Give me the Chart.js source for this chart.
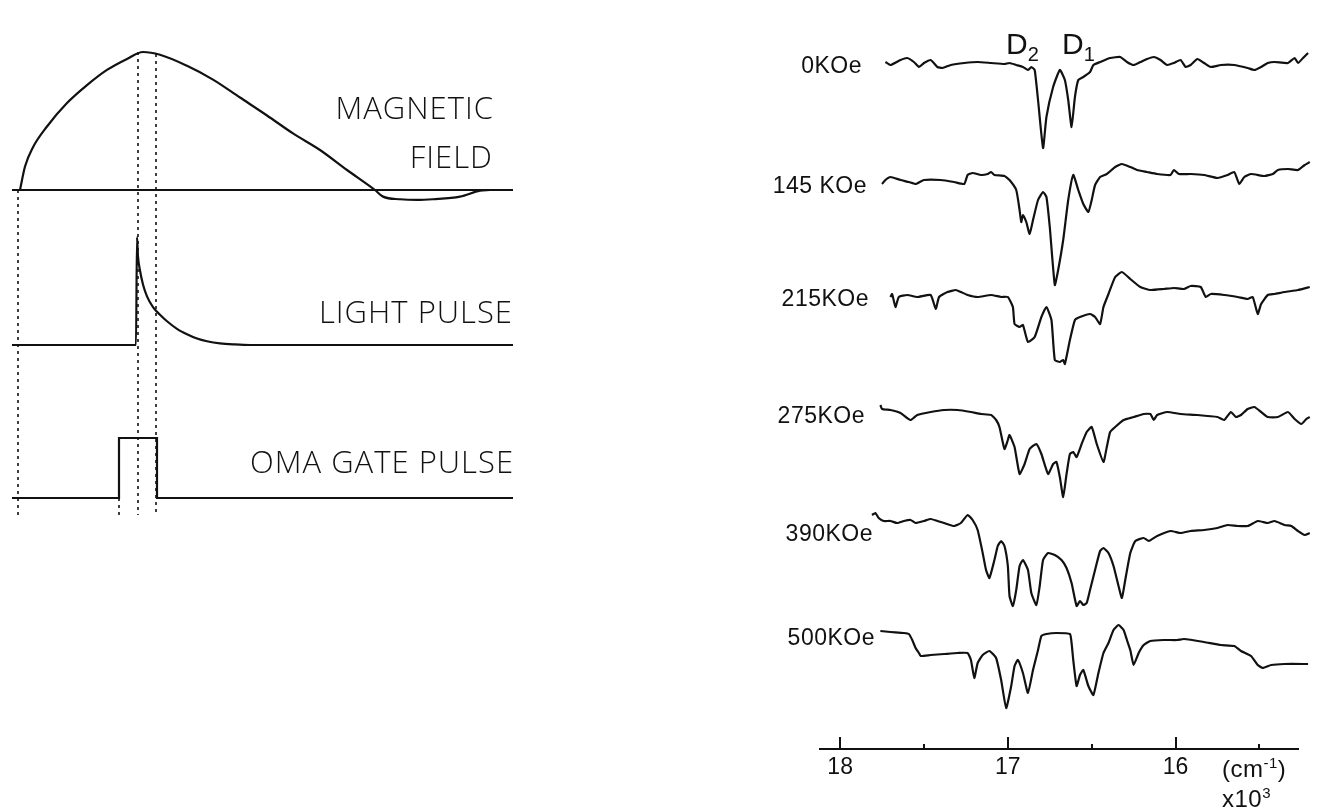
<!DOCTYPE html>
<html>
<head>
<meta charset="utf-8">
<title>Magnetic field timing and Na D-line spectra</title>
<script src="https://cdn.jsdelivr.net/npm/chart.js@4.4.1/dist/chart.umd.min.js"></script>
<style>
    html, body {
        margin: 0;
        padding: 0;
        background: #ffffff;
    }
    .page {
        position: relative;
        width: 1327px;
        height: 811px;
        overflow: hidden;
        background: #ffffff;
        color: #111111;
    }
    canvas {
        position: absolute;
    }
    #timingChart { left: 0; top: 0; }
    #spectraChart { left: 700px; top: 0; }
    .lbl {
        position: absolute;
        white-space: nowrap;
        line-height: 1;
        color: #111111;
    }
    .signal {
        font-family: 'Open Sans', 'Liberation Sans', sans-serif;
        font-weight: 300;
        font-size: 31px;
        letter-spacing: 1px;
        text-align: right;
    }
    .field {
        font-family: 'Liberation Sans', sans-serif;
        font-size: 23px;
        letter-spacing: 0.5px;
        text-align: right;
    }
    .line-name {
        font-family: 'Liberation Sans', sans-serif;
        font-size: 30px;
    }
    .line-name sub {
        font-size: 20px;
        vertical-align: -7px;
    }
    .unit {
        font-family: 'Liberation Sans', sans-serif;
        font-size: 24px;
        letter-spacing: 0.5px;
    }
    .unit sup, .unit .exp {
        font-size: 15px;
        vertical-align: 9px;
    }
</style>
</head>
<body>
<div class="page">
    <canvas id="timingChart" width="530" height="540"></canvas>
    <canvas id="spectraChart" width="627" height="811"></canvas>

    <!-- timing diagram labels -->
    <div class="lbl signal" style="right: 833px; top: 92px;">MAGNETIC</div>
    <div class="lbl signal" style="right: 834px; top: 141px;">FIELD</div>
    <div class="lbl signal" style="right: 814px; top: 296px;">LIGHT PULSE</div>
    <div class="lbl signal" style="right: 813px; top: 446px;">OMA GATE PULSE</div>

    <!-- spectra labels -->
    <div class="lbl line-name" style="left: 1006px; top: 29px;">D<sub>2</sub></div>
    <div class="lbl line-name" style="left: 1062px; top: 29px;">D<sub>1</sub></div>
    <div class="lbl field" style="right: 465px; top: 54px;">0KOe</div>
    <div class="lbl field" style="right: 460px; top: 174px;">145 KOe</div>
    <div class="lbl field" style="right: 458px; top: 287px;">215KOe</div>
    <div class="lbl field" style="right: 462px; top: 404px;">275KOe</div>
    <div class="lbl field" style="right: 454px; top: 522px;">390KOe</div>
    <div class="lbl field" style="right: 452px; top: 626px;">500KOe</div>
    <div class="lbl unit" style="left: 1222px; top: 755px;">(cm<sup>-1</sup>)</div>
    <div class="lbl unit" style="left: 1222px; top: 785px;">x10<span class="exp">3</span></div>
</div>

<script>
/**
 * Timing diagram data (time in arbitrary units)
 */
const timeSpan = [0, 530];
const baseTimes = [12, 513];

const fieldTimes = [20, 25, 33, 47, 67, 87, 107, 127, 143, 160, 187, 213, 240, 267, 293, 320, 347, 375, 383, 400, 417, 433, 460, 480, 490];
const fieldValues = [0, 0.17, 0.31, 0.46, 0.63, 0.76, 0.87, 0.95, 1.0, 0.98, 0.90, 0.80, 0.67, 0.54, 0.41, 0.29, 0.145, 0, -0.048, -0.067, -0.072, -0.067, -0.048, -0.005, 0];

const lightTimes = [12, 136, 137, 138, 140, 143, 147, 153, 160, 167, 177, 187, 197, 207, 220, 235, 250, 513];
const lightValues = [0, 0, 1.0, 0.82, 0.69, 0.56, 0.45, 0.35, 0.28, 0.22, 0.15, 0.10, 0.06, 0.035, 0.015, 0.005, 0, 0];

const gateTimes = [12, 119, 119, 157, 157, 513];
const gateValues = [0, 0, 1, 1, 0, 0];

// trace baselines and heights on the diagram's vertical scale
const traceLevels = [350, 195, 42];
const traceHeights = [138, 108, 60];

// dotted time markers
const markerTimes = [18, 138, 156, 119];
const markerTops = [350, 488, 486, 42];
const markerBottom = 25;

/**
 * Spectra data (wavenumber in 10^3 cm^-1, deflection in arbitrary units)
 */
const fieldLabels = ['0KOe', '145 KOe', '215KOe', '275KOe', '390KOe', '500KOe'];
const traceOffsets = [686, 567, 452, 337, 226, 116];

const wn0 = [17.73, 17.70, 17.64, 17.60, 17.56, 17.53, 17.50, 17.46, 17.42, 17.39, 17.34, 17.26, 17.18, 17.10, 17.02, 16.99, 16.95, 16.91, 16.88, 16.86, 16.84, 16.82, 16.79, 16.77, 16.73, 16.69, 16.66, 16.64, 16.62, 16.60, 16.58, 16.55, 16.51, 16.49, 16.45, 16.39, 16.33, 16.29, 16.25, 16.21, 16.17, 16.13, 16.09, 16.05, 16.01, 15.97, 15.94, 15.91, 15.87, 15.83, 15.79, 15.73, 15.65, 15.57, 15.53, 15.49, 15.45, 15.41, 15.33, 15.29, 15.27, 15.24, 15.21];
const int0 = [1, -2, 3, 5, 1, -4, 0, 3, -4, -5, -2, 0, 1, 0, -1, 0, -2, -4, -7, -4, -7, -37, -85, -54, -24, -7, -17, -37, -64, -34, -17, -14, -9, -2, 1, 5, 6, 1, -2, 1, 4, 6, 3, -2, 0, 3, -4, -2, 4, 0, -4, -2, -2, -5, -7, -4, 0, 1, 0, 5, 0, 5, 10];

const wn1 = [17.75, 17.73, 17.70, 17.64, 17.59, 17.55, 17.50, 17.40, 17.32, 17.26, 17.24, 17.21, 17.16, 17.12, 17.10, 17.08, 17.02, 16.99, 16.95, 16.93, 16.92, 16.91, 16.89, 16.87, 16.85, 16.82, 16.79, 16.77, 16.75, 16.72, 16.70, 16.67, 16.64, 16.61, 16.58, 16.55, 16.52, 16.50, 16.48, 16.45, 16.41, 16.36, 16.32, 16.27, 16.23, 16.17, 16.11, 16.03, 16.01, 15.98, 15.91, 15.83, 15.75, 15.69, 15.65, 15.62, 15.59, 15.55, 15.47, 15.42, 15.39, 15.33, 15.27, 15.23, 15.20];
const int1 = [-2, 2, 5, 2, 0, -2, 2, 2, 0, -2, 7, 9, 7, 8, 10, 7, 6, 2, -8, -28, -40, -33, -40, -52, -38, -18, -10, -15, -45, -103, -88, -58, -18, 7, -8, -22, -30, -18, -3, 5, 8, 15, 18, 15, 12, 10, 8, 7, 12, 8, 8, 7, 4, 7, 10, -2, 5, 8, 6, 8, 12, 13, 12, 17, 20];

const wn2 = [17.70, 17.69, 17.67, 17.65, 17.60, 17.54, 17.46, 17.43, 17.41, 17.36, 17.31, 17.28, 17.24, 17.18, 17.10, 17.04, 17.00, 16.97, 16.96, 16.93, 16.91, 16.88, 16.84, 16.80, 16.77, 16.74, 16.72, 16.69, 16.67, 16.66, 16.63, 16.60, 16.57, 16.51, 16.48, 16.45, 16.43, 16.40, 16.36, 16.32, 16.27, 16.21, 16.15, 16.07, 16.01, 15.95, 15.91, 15.85, 15.82, 15.79, 15.71, 15.63, 15.57, 15.54, 15.51, 15.49, 15.45, 15.41, 15.35, 15.27, 15.20];
const int2 = [0, 3, -10, 0, 2, 0, 2, -12, 0, 5, 7, 5, 2, 0, 2, 0, 0, -10, -27, -30, -28, -45, -40, -20, -10, -23, -63, -65, -63, -67, -43, -23, -20, -17, -20, -27, -10, 3, 20, 25, 18, 10, 7, 8, 9, 8, 11, 10, 0, 3, 2, 0, -2, 0, -17, -7, 2, 3, 5, 7, 10];

const wn3 = [17.76, 17.75, 17.70, 17.64, 17.58, 17.54, 17.46, 17.38, 17.30, 17.22, 17.16, 17.10, 17.07, 17.05, 17.02, 17.00, 16.99, 16.96, 16.93, 16.90, 16.87, 16.83, 16.80, 16.76, 16.73, 16.71, 16.69, 16.67, 16.65, 16.63, 16.61, 16.59, 16.56, 16.53, 16.50, 16.47, 16.43, 16.41, 16.39, 16.36, 16.31, 16.25, 16.19, 16.15, 16.13, 16.11, 16.05, 15.97, 15.87, 15.75, 15.71, 15.67, 15.64, 15.61, 15.57, 15.53, 15.49, 15.45, 15.39, 15.33, 15.29, 15.25, 15.22, 15.20];
const int3 = [7, 3, 2, -1, -8, -3, 0, 2, 2, 0, -2, -3, -8, -15, -37, -28, -23, -35, -62, -52, -37, -32, -42, -62, -52, -50, -65, -85, -62, -42, -40, -45, -32, -20, -15, -32, -50, -35, -20, -15, -8, -5, -2, -2, -8, -3, 0, -2, -3, -5, -8, 0, -5, -3, 3, 5, 0, -5, -5, 0, -7, -12, -7, -5];

const wn4 = [17.81, 17.79, 17.77, 17.74, 17.70, 17.66, 17.62, 17.58, 17.55, 17.50, 17.46, 17.42, 17.38, 17.32, 17.28, 17.24, 17.21, 17.18, 17.15, 17.13, 17.11, 17.08, 17.06, 17.04, 17.02, 17.00, 16.99, 16.97, 16.95, 16.93, 16.91, 16.88, 16.86, 16.83, 16.81, 16.79, 16.76, 16.72, 16.68, 16.65, 16.62, 16.59, 16.57, 16.55, 16.53, 16.51, 16.48, 16.45, 16.43, 16.40, 16.37, 16.34, 16.32, 16.30, 16.27, 16.24, 16.19, 16.16, 16.11, 16.03, 15.97, 15.91, 15.83, 15.75, 15.69, 15.63, 15.57, 15.51, 15.45, 15.41, 15.35, 15.31, 15.27, 15.23, 15.20];
const int4 = [8, 10, 5, 2, 2, 0, 2, 3, 0, 2, 4, 2, 0, -3, 0, 8, 3, -7, -30, -47, -55, -37, -23, -18, -23, -43, -73, -83, -67, -43, -37, -47, -70, -82, -63, -37, -30, -32, -37, -45, -60, -83, -78, -82, -80, -67, -47, -28, -25, -30, -43, -63, -75, -57, -30, -18, -15, -18, -13, -8, -10, -8, -7, -5, -2, -3, -3, 2, 0, 2, -2, -3, -8, -12, -10];

const wn5 = [17.76, 17.70, 17.62, 17.59, 17.57, 17.55, 17.53, 17.52, 17.46, 17.38, 17.30, 17.24, 17.22, 17.20, 17.18, 17.15, 17.11, 17.07, 17.04, 17.01, 16.98, 16.96, 16.94, 16.91, 16.88, 16.85, 16.82, 16.80, 16.77, 16.71, 16.63, 16.62, 16.61, 16.59, 16.57, 16.55, 16.52, 16.49, 16.46, 16.43, 16.40, 16.37, 16.34, 16.31, 16.29, 16.27, 16.25, 16.22, 16.19, 16.15, 16.07, 15.99, 15.95, 15.83, 15.73, 15.65, 15.61, 15.55, 15.51, 15.48, 15.43, 15.35, 15.21];
const int5 = [2, 1, 0, -1, -7, -15, -20, -23, -22, -21, -20, -20, -27, -45, -30, -22, -18, -25, -47, -75, -53, -33, -27, -40, -60, -37, -17, -3, -1, 0, -1, -10, -27, -53, -42, -37, -53, -62, -40, -20, -10, 3, 8, 3, -7, -17, -32, -20, -12, -8, -7, -7, -6, -9, -12, -13, -18, -23, -32, -35, -32, -31, -31];

const wavenumbers = [wn0, wn1, wn2, wn3, wn4, wn5];
const intensities = [int0, int1, int2, int3, int4, int5];

// axis
const axisRange = [15.27, 18.12];
const majorTicks = [18, 17, 16];
const minorTicks = [17.5, 16.5, 15.5];

const INK = '#111111';

document.addEventListener('DOMContentLoaded', () => {
    createTimingChart();
    createSpectraChart();
});

/**
 * Helper: zip x and y arrays into point objects
 */
function toPoints(xs, ys, level = 0, height = 1) {
    const n = Math.min(xs.length, ys.length);
    const pts = [];
    for (let i = 0; i < n; i++) {
        pts.push({ x: xs[i], y: level + ys[i] * height });
    }
    return pts;
}

/**
 * Create Timing Chart (magnetic field, light pulse, OMA gate)
 */
function createTimingChart() {
    const ctx = document.getElementById('timingChart');

    const solid = (data, smooth) => ({
        data,
        borderColor: INK,
        borderWidth: 2.2,
        pointRadius: 0,
        fill: false,
        tension: smooth ? 0.4 : 0,
        cubicInterpolationMode: smooth ? 'monotone' : 'default'
    });

    const datasets = [
        // baseline under the field curve
        solid(toPoints(baseTimes, [0, 0], traceLevels[0]), false),
        solid(toPoints(fieldTimes, fieldValues, traceLevels[0], traceHeights[0]), true),
        solid(toPoints(lightTimes, lightValues, traceLevels[1], traceHeights[1]), true),
        solid(toPoints(gateTimes, gateValues, traceLevels[2], traceHeights[2]), false)
    ];

    markerTimes.forEach((t, i) => {
        datasets.push({
            data: [{ x: t, y: markerTops[i] }, { x: t, y: markerBottom }],
            borderColor: INK,
            borderWidth: 1.6,
            borderDash: [3, 4],
            pointRadius: 0,
            fill: false
        });
    });

    new Chart(ctx, {
        type: 'line',
        data: { datasets },
        options: {
            responsive: false,
            animation: false,
            parsing: false,
            layout: { padding: 0 },
            plugins: {
                legend: { display: false },
                tooltip: { enabled: false }
            },
            scales: {
                x: { type: 'linear', display: false, min: timeSpan[0], max: timeSpan[1] },
                y: { type: 'linear', display: false, min: 0, max: 540 }
            }
        }
    });
}

/**
 * Inward tick marks drawn from the x scale
 */
const innerTicks = {
    id: 'innerTicks',
    afterDraw(chart) {
        const { ctx, scales: { x } } = chart;
        const y0 = x.top;
        ctx.save();
        ctx.strokeStyle = INK;
        ctx.lineWidth = 2;
        const draw = (v, len) => {
            const px = Math.round(x.getPixelForValue(v));
            ctx.beginPath();
            ctx.moveTo(px, y0);
            ctx.lineTo(px, y0 - len);
            ctx.stroke();
        };
        majorTicks.forEach(v => draw(v, 12));
        minorTicks.forEach(v => draw(v, 5));
        ctx.restore();
    }
};

/**
 * Create Spectra Chart (stacked traces vs wavenumber)
 */
function createSpectraChart() {
    const ctx = document.getElementById('spectraChart');

    const datasets = wavenumbers.map((xs, i) => ({
        label: fieldLabels[i],
        data: toPoints(xs, intensities[i], traceOffsets[i]),
        borderColor: INK,
        borderWidth: 2.2,
        pointRadius: 0,
        fill: false,
        tension: 0.15,
        clip: false
    }));

    new Chart(ctx, {
        type: 'line',
        data: { datasets },
        options: {
            responsive: false,
            animation: false,
            parsing: false,
            layout: { padding: { left: 120, right: 29, top: 0, bottom: 28 } },
            plugins: {
                legend: { display: false },
                tooltip: { enabled: false }
            },
            scales: {
                x: {
                    type: 'linear',
                    reverse: true,
                    min: axisRange[0],
                    max: axisRange[1],
                    afterBuildTicks: (scale) => {
                        scale.ticks = [...majorTicks, ...minorTicks]
                            .sort((a, b) => b - a)
                            .map(v => ({ value: v }));
                    },
                    afterFit: (scale) => { scale.height = 34; },
                    grid: { display: false, drawTicks: false },
                    border: { display: true, color: INK, width: 2 },
                    ticks: {
                        color: INK,
                        padding: 5,
                        autoSkip: false,
                        maxRotation: 0,
                        font: { size: 23, family: 'Liberation Sans' },
                        callback: (v) => Number.isInteger(v) ? String(v) : ''
                    }
                },
                y: { type: 'linear', display: false, min: 0, max: 749 }
            }
        },
        plugins: [innerTicks]
    });
}
</script>
</body>
</html>
